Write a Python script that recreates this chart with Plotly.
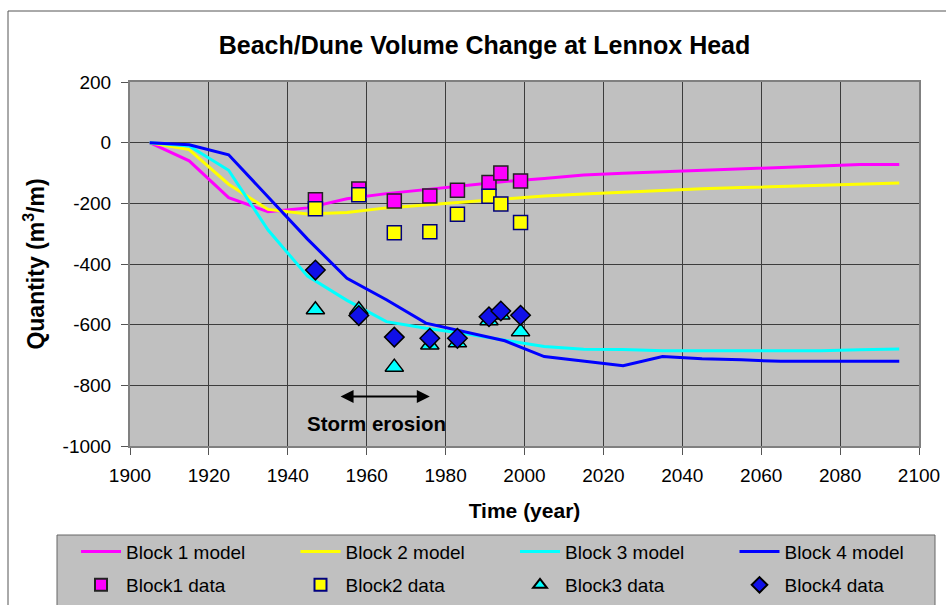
import plotly.graph_objects as go

# ---------------- data ----------------
model_years = [1905, 1915, 1925, 1935, 1945, 1955, 1965, 1975, 1985, 1995,
               2005, 2015, 2025, 2035, 2045, 2055, 2065, 2075, 2085, 2095]
block1_model = [0, -60, -181, -228, -215, -185, -168, -154, -140, -128,
                -118, -107, -101, -96, -90, -86, -80, -76, -72, -72]
block2_model = [0, -23, -137, -220, -235, -230, -215, -205, -194, -184,
                -176, -169, -163, -157, -152, -148, -144, -140, -137, -133]
block3_model = [0, -11, -91, -288, -440, -520, -590, -612, -630, -650,
                -672, -681, -682, -686, -686, -686, -686, -686, -683, -680]
block4_model = [0, -7, -40, -179, -318, -447, -518, -595, -625, -653,
                -705, -721, -735, -705, -712, -716, -721, -721, -721, -721]

data_years = [1947, 1958, 1967, 1976, 1983, 1991, 1994, 1999]
block1_data = [-188, -153, -192, -176, -157, -131, -100, -126]
block2_data = [-218, -172, -297, -294, -236, -177, -202, -263]
block3_data = [-551, -551, -740, -667, -660, -587, -568, -623]
block4_data = [-420, -570, -641, -645, -645, -574, -555, -569]

storm_start, storm_end, storm_level = 1953, 1976, -837
storm_label_year, storm_label_level = 1962.5, -925

x_ticks = [1900, 1920, 1940, 1960, 1980, 2000, 2020, 2040, 2060, 2080, 2100]
y_ticks = [200, 0, -200, -400, -600, -800, -1000]

# ---------------- layout geometry (page pixels) ----------------
W, H = 946, 605
L, R, T, B = 130, 919, 82, 446   # plot area
pw, ph = R - L, B - T


def px(xp):
    return (xp - L) / pw


def py(yp):
    return (B - yp) / ph


FONT = "Liberation Sans, Arial, sans-serif"

fig = go.Figure()

line_specs = [("Block 1 model", block1_model, "#FF00FF"),
              ("Block 2 model", block2_model, "#FFFF00"),
              ("Block 3 model", block3_model, "#00FFFF"),
              ("Block 4 model", block4_model, "#0000FF")]
for i, (name, vals, col) in enumerate(line_specs):
    fig.add_trace(go.Scatter(x=model_years, y=vals, mode="lines", name=name,
                             line=dict(color=col, width=3),
                             legend="legend" if i == 0 else f"legend{i + 1}"))

marker_specs = [("Block1 data", block1_data, "#FF00FF", "square", 14, "#222222"),
                ("Block2 data", block2_data, "#FFFF00", "square", 14, "#000080"),
                ("Block3 data", block3_data, "#00FFFF", "triangle-up", 16, "#000000"),
                ("Block4 data", block4_data, "#1010E8", "diamond", 15, "#000000")]
for i, (name, vals, col, sym, sz, edge) in enumerate(marker_specs):
    fig.add_trace(go.Scatter(x=data_years, y=vals, mode="markers", name=name,
                             marker=dict(color=col, symbol=sym, size=sz,
                                         line=dict(color=edge, width=1.5)),
                             legend=f"legend{i + 5}"))

# storm erosion arrow + label
fig.add_annotation(x=storm_end, y=storm_level, ax=storm_start, ay=storm_level,
                   xref="x", yref="y", axref="x", ayref="y", text="",
                   showarrow=True, arrowside="end+start", arrowhead=2,
                   arrowsize=1.3, arrowwidth=2, arrowcolor="#000000")
fig.add_annotation(x=storm_label_year, y=storm_label_level, xref="x", yref="y",
                   text="<b>Storm erosion</b>", showarrow=False,
                   font=dict(family=FONT, size=20.5, color="#000000"))

# outer chart border and legend box
fig.add_shape(type="rect", xref="paper", yref="paper",
              x0=px(8), x1=px(960), y0=py(620), y1=py(11),
              line=dict(color="#555555", width=1), fillcolor="rgba(0,0,0,0)",
              layer="below")
fig.add_shape(type="rect", xref="paper", yref="paper",
              x0=px(57), x1=px(935), y0=py(625), y1=py(535),
              line=dict(color="#666666", width=1), fillcolor="#C0C0C0",
              layer="below")

axis_common = dict(showgrid=True, gridcolor="#3C3C3C", gridwidth=1,
                   zeroline=False, showline=True, linecolor="#808080",
                   linewidth=2, mirror=True, ticks="outside", ticklen=7,
                   tickcolor="#555555", tickwidth=1,
                   tickfont=dict(family=FONT, size=19, color="#000000"))

legend_base = dict(orientation="h", xanchor="left", yanchor="middle",
                   bgcolor="rgba(0,0,0,0)", borderwidth=0, itemwidth=40,
                   font=dict(family=FONT, size=19, color="#000000"))
legends = {}
for i in range(8):
    col, row = i % 4, i // 4
    key = "legend" if i == 0 else f"legend{i + 1}"
    cfg = dict(legend_base, x=px(76 + col * 219.5), y=py(551.7 if row == 0 else 585))
    if row == 1:
        cfg["itemsizing"] = "constant"
    legends[key] = cfg

fig.update_layout(
    width=W, height=H,
    margin=dict(l=L, r=W - R, t=T, b=H - B, autoexpand=False),
    paper_bgcolor="#FFFFFF", plot_bgcolor="#C0C0C0",
    title=dict(text="<b>Beach/Dune Volume Change at Lennox Head</b>",
               font=dict(family=FONT, size=25, color="#000000"),
               x=px(484.5), xref="paper", xanchor="center",
               y=1 - 45 / H, yref="container", yanchor="middle"),
    xaxis=dict(range=[1900, 2100], tickvals=x_ticks,
               ticktext=[str(v) for v in x_ticks],
               ticklabelstandoff=4,
               title=dict(text="<b>Time (year)</b>", standoff=19,
                          font=dict(family=FONT, size=21, color="#000000")),
               **axis_common),
    yaxis=dict(range=[-1000, 200], tickvals=y_ticks,
               ticktext=[str(v) for v in y_ticks],
               title=dict(text="<b>Quantity (m<sup>3</sup>/m)</b>", standoff=12,
                          font=dict(family=FONT, size=23, color="#000000")),
               ticklabelstandoff=6,
               **axis_common),
    showlegend=True,
    **legends,
)

fig.write_html(
    "out.html",
    config={"displayModeBar": False},
    post_script="document.body.style.margin='0';document.body.style.overflow='hidden';",
)
